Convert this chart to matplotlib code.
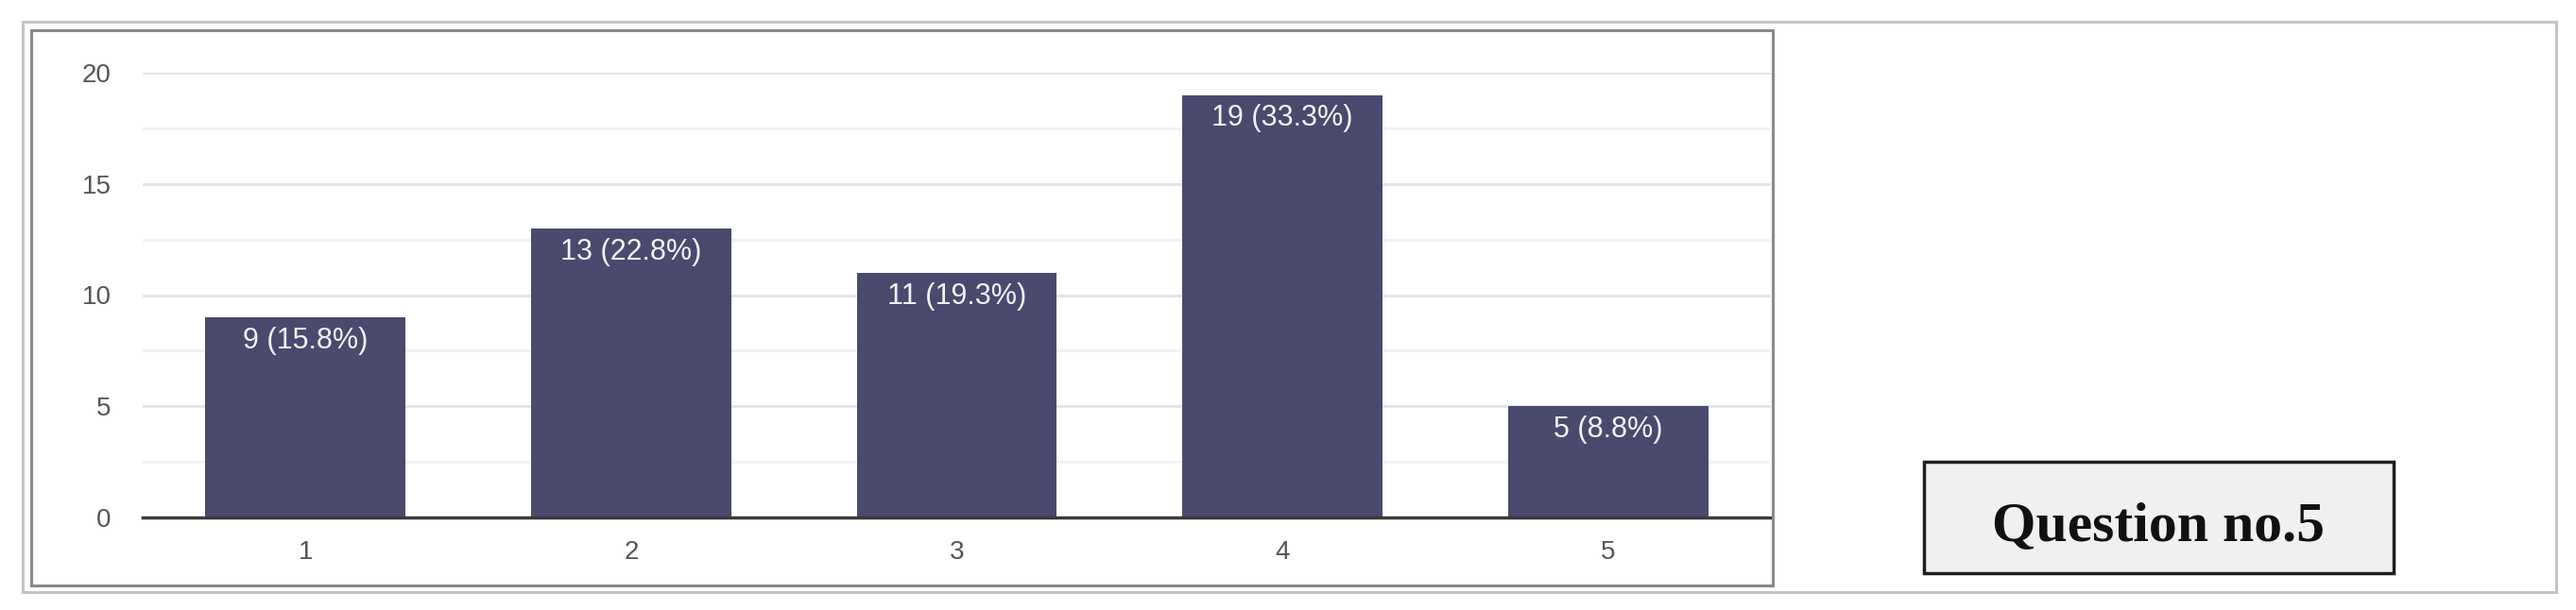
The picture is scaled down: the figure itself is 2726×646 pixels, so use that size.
import matplotlib
matplotlib.use("Agg")
import matplotlib.pyplot as plt
from matplotlib.patches import Rectangle

# data
categories = ["1", "2", "3", "4", "5"]
counts = [9, 13, 11, 19, 5]
percents = ["15.8", "22.8", "19.3", "33.3", "8.8"]
yticks = [0, 5, 10, 15, 20]

W, H = 2726, 646
fig = plt.figure(figsize=(W / 100, H / 100), dpi=100)
fig.patch.set_facecolor("white")


def frame(x0, y0, x1, y1, **kw):
    # pixel box (top-left origin) -> figure fraction rectangle
    r = Rectangle((x0 / W, 1 - y1 / H), (x1 - x0) / W, (y1 - y0) / H,
                  transform=fig.transFigure, fill=False, **kw)
    fig.patches.append(r)
    return r


frame(24, 23, 2705, 627, edgecolor="#c4c4c4", linewidth=2.2)
frame(33, 32, 1876, 620, edgecolor="#8a8a8a", linewidth=2.2)

ax = fig.add_axes([151 / W, 1 - 548 / H, (1874 - 151) / W, (548 - 77) / H])
x = range(1, len(categories) + 1)
bars = ax.bar(x, counts, width=0.615, color="#4a496e", zorder=3)

for xi, c, p in zip(x, counts, percents):
    ax.annotate(f"{c} ({p}%)", (xi, c), xytext=(0, -7), textcoords="offset points",
                ha="center", va="top", color="#f2f2f2", fontsize=22,
                family="Liberation Sans", zorder=4)

ax.set_xlim(0.5, 5.5)
ax.set_ylim(0, 20)
ax.set_xticks(list(x))
ax.set_xticklabels(categories)
ax.set_yticks(yticks)
ax.set_yticks([2.5, 7.5, 12.5, 17.5], minor=True)
ax.tick_params(axis="both", which="both", length=0, labelsize=20, labelcolor="#555555")
ax.tick_params(axis="y", pad=24)
ax.tick_params(axis="x", pad=17)
for lab in ax.get_xticklabels() + ax.get_yticklabels():
    lab.set_family("Liberation Sans")

ax.grid(axis="y", which="major", color="#e2e2e2", linewidth=2, zorder=0)
ax.grid(axis="y", which="minor", color="#f1f1f1", linewidth=2, zorder=0)
for side in ["top", "right", "left"]:
    ax.spines[side].set_visible(False)
ax.spines["bottom"].set_color("#3a3a3a")
ax.spines["bottom"].set_linewidth(2.5)
ax.spines["bottom"].set_zorder(5)
ax.set_facecolor("white")

# label box on the right
box = Rectangle((2036 / W, 1 - 607 / H), (2533 - 2036) / W, (607 - 489) / H,
                transform=fig.transFigure, facecolor="#f0f0f0",
                edgecolor="#1e1e1e", linewidth=2.5)
fig.patches.append(box)
fig.text((2036 + 2533) / 2 / W, 1 - 558 / H, "Question no.5", ha="center", va="center",
         fontsize=43, fontweight="bold", family="Liberation Serif", color="#111111")

fig.savefig("out.png", dpi=100, facecolor="white")
